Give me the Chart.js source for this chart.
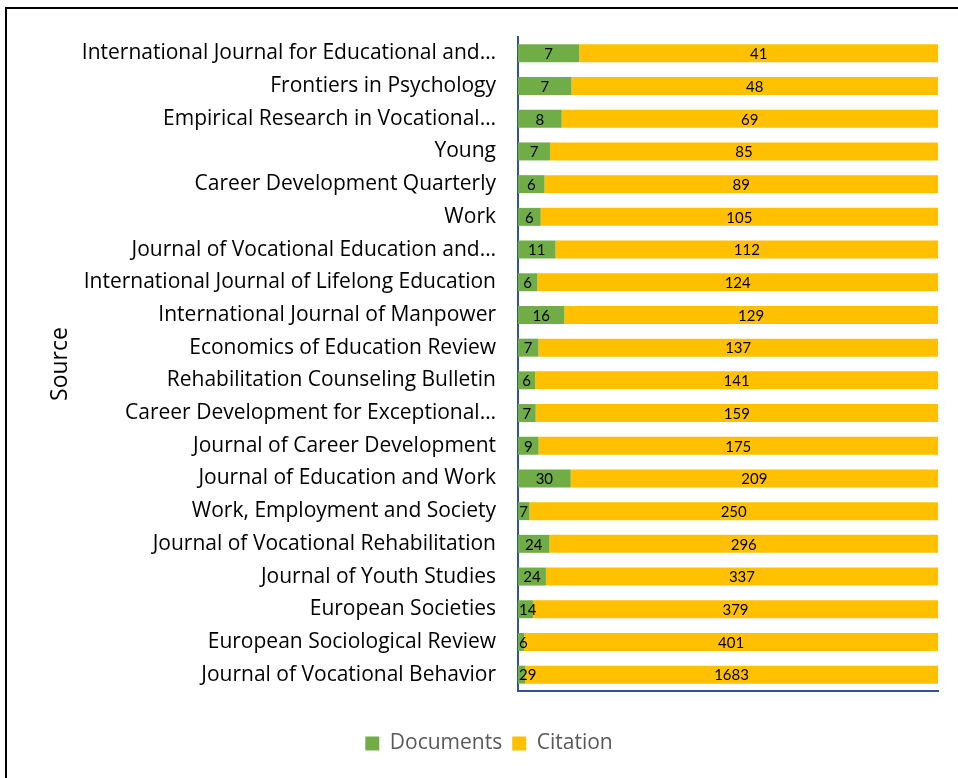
<!DOCTYPE html>
<html lang="en">
<head>
    <meta charset="UTF-8">
    <title>Sources</title>
    <script src="https://cdn.jsdelivr.net/npm/chart.js"></script>
    <style>
        body { margin: 0; background: #fff; }
        #frame { position: absolute; left: 5px; top: 7px; width: 960px; height: 780px; border-left: 2px solid #000; border-top: 2px solid #000; }
        #wrap { position: absolute; left: 0; top: 0; width: 958px; height: 778px; }
    </style>
</head>
<body>
    <div id="frame"></div>
    <div id="wrap"><canvas id="myChart"></canvas></div>
    <script>
        const sources = [
            'International Journal for Educational and\u2026',
            'Frontiers in Psychology',
            'Empirical Research in Vocational\u2026',
            'Young',
            'Career Development Quarterly',
            'Work',
            'Journal of Vocational Education and\u2026',
            'International Journal of Lifelong Education',
            'International Journal of Manpower',
            'Economics of Education Review',
            'Rehabilitation Counseling Bulletin',
            'Career Development for Exceptional\u2026',
            'Journal of Career Development',
            'Journal of Education and Work',
            'Work, Employment and Society',
            'Journal of Vocational Rehabilitation',
            'Journal of Youth Studies',
            'European Societies',
            'European Sociological Review',
            'Journal of Vocational Behavior'
        ];
        const documents = [7, 7, 8, 7, 6, 6, 11, 6, 16, 7, 6, 7, 9, 30, 7, 24, 24, 14, 6, 29];
        const citations = [41, 48, 69, 85, 89, 105, 112, 124, 129, 137, 141, 159, 175, 209, 250, 296, 337, 379, 401, 1683];

        const font = 'Open Sans';

        // 100% stacked: each row is split by share of the row total
        function share(arr) {
            return arr.map((v, i) => v / (documents[i] + citations[i]) * 100);
        }

        // write the raw count in the middle of each segment
        const countLabels = {
            id: 'countLabels',
            afterDatasetsDraw(chart) {
                const ctx = chart.ctx;
                const left = chart.chartArea.left;
                ctx.save();
                ctx.font = '15px Lato';
                ctx.fillStyle = '#000';
                ctx.textBaseline = 'middle';
                ctx.textAlign = 'left';
                chart.data.datasets.forEach((ds, i) => {
                    chart.getDatasetMeta(i).data.forEach((bar, j) => {
                        const txt = String(ds.counts[j]);
                        const w = ctx.measureText(txt).width;
                        let x = (bar.x + bar.base) / 2 - w / 2;
                        if (x < left + 1) x = left + 1;
                        ctx.fillText(txt, x, bar.y + 1);
                    });
                });
                ctx.restore();
            }
        };

        new Chart(document.getElementById('myChart'), {
            type: 'bar',
            data: {
                labels: sources,
                datasets: [{
                    label: 'Documents',
                    data: share(documents),
                    counts: documents,
                    backgroundColor: '#70AD47'
                }, {
                    label: 'Citation',
                    data: share(citations),
                    counts: citations,
                    backgroundColor: '#FFC000'
                }]
            },
            options: {
                indexAxis: 'y',
                responsive: true,
                maintainAspectRatio: false,
                animation: false,
                categoryPercentage: 1,
                barPercentage: 0.55,
                layout: { padding: { left: 40, right: 20, top: 37, bottom: 14 } },
                scales: {
                    x: {
                        stacked: true,
                        min: 0,
                        max: 100,
                        ticks: { display: false },
                        grid: { display: false },
                        border: { display: true, color: '#2F5597', width: 2 },
                        afterFit(scale) { scale.height = 32; }
                    },
                    y: {
                        stacked: true,
                        grid: { display: false, drawTicks: false },
                        border: { display: true, color: '#2F5597', width: 2 },
                        ticks: { color: '#000', padding: 22, font: { family: font, size: 21 } },
                        title: {
                            display: true,
                            text: 'Source',
                            color: '#000',
                            padding: { top: 7, bottom: 0 },
                            font: { family: font, size: 23 }
                        },
                        afterFit(scale) { scale.width = 478; }
                    }
                },
                plugins: {
                    tooltip: { enabled: false },
                    legend: {
                        position: 'bottom',
                        labels: {
                            color: '#595959',
                            boxWidth: 14,
                            boxHeight: 14,
                            padding: 10,
                            font: { family: font, size: 21 }
                        }
                    }
                }
            },
            plugins: [countLabels]
        });
    </script>
</body>
</html>
